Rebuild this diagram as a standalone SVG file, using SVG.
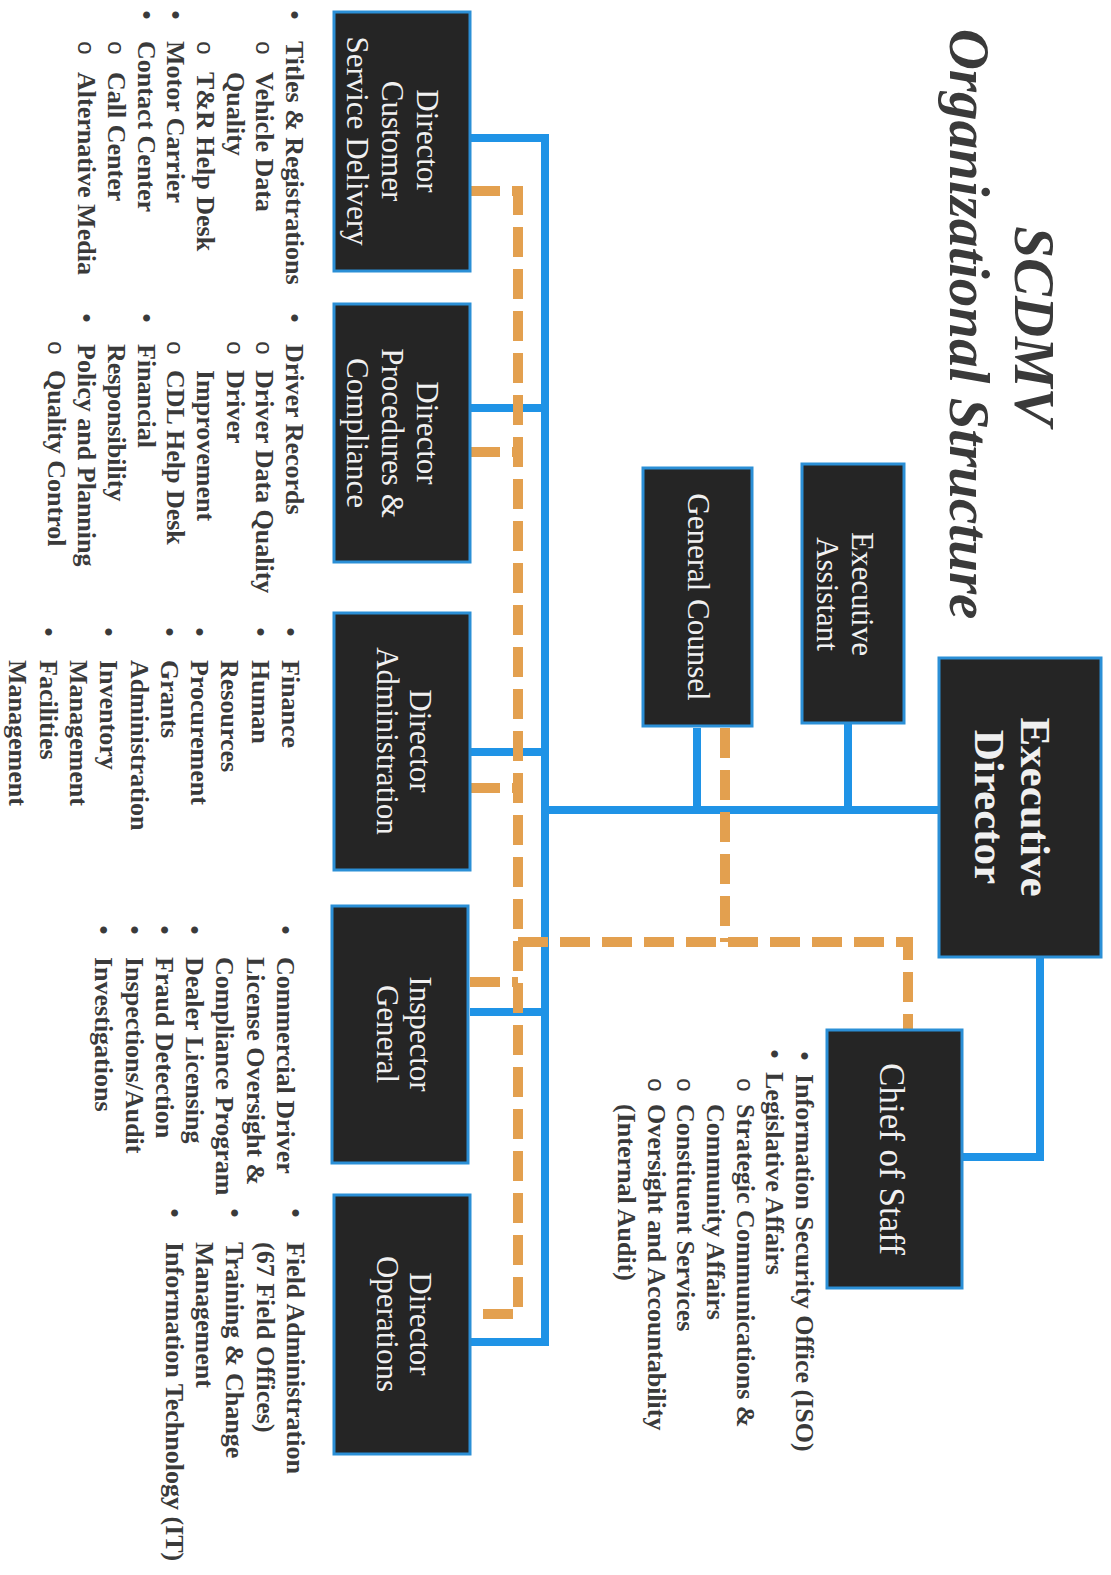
<svg xmlns="http://www.w3.org/2000/svg" width="1111" height="1575" viewBox="0 0 1111 1575">
<style>
.box{fill:#252525;stroke:#2b8fd6;stroke-width:3}
.bt{font-family:"Liberation Serif",serif;fill:#f0f0f0;font-size:31px;text-anchor:middle}
.btb{font-family:"Liberation Serif",serif;fill:#f0f0f0;font-size:43px;font-weight:bold;text-anchor:middle}
.li{font-family:"Liberation Serif",serif;font-weight:bold;fill:#3a3a3a;font-size:26px}
.bu{font-family:"Liberation Serif",serif;font-weight:bold;fill:#3a3a3a;font-size:26px;text-anchor:middle}
.ci{font-family:"Liberation Sans",sans-serif;fill:#3a3a3a;font-size:24px;text-anchor:middle}
.title{font-family:"Liberation Serif",serif;font-weight:bold;font-style:italic;fill:#3a3a3a;font-size:57px;text-anchor:middle}
.blue{stroke:#1f93e6;stroke-width:8;fill:none}
.orange{stroke:#e3a04f;stroke-width:10;fill:none;stroke-dasharray:30 12}
</style>
<rect width="1111" height="1575" fill="#ffffff"/>
<g id="title">
<text class="title" transform="translate(1015,326) rotate(90)">SCDMV</text>
<text class="title" transform="translate(950,324) rotate(90)">Organizational Structure</text>
</g>
<g id="connectors">
<path class="blue" d="M470,138 H545 V1342 H470"/>
<path class="blue" d="M470,408 H545"/>
<path class="blue" d="M470,752 H545"/>
<path class="blue" d="M470,1012 H545"/>
<path class="blue" d="M545,810 H938"/>
<path class="blue" d="M697,728 V810"/>
<path class="blue" d="M848,723 V810"/>
<path class="blue" d="M1040,957 V1157 H962"/>
<path class="orange" d="M470,191 H518 V1314 H470"/>
<path class="orange" d="M470,452 H518"/>
<path class="orange" d="M470,788 H518"/>
<path class="orange" d="M470,982 H518"/>
<path class="orange" d="M518,942 H908 V1030"/>
<path class="orange" d="M725,728 V942"/>
</g>
<g id="executive-director">
<rect class="box" x="939" y="658" width="162" height="299"/>
<text class="btb" transform="translate(1021,807) rotate(90)">Executive</text>
<text class="btb" transform="translate(975,807) rotate(90)">Director</text>
</g>
<g id="executive-assistant">
<rect class="box" x="802" y="464" width="102" height="259"/>
<text class="bt" transform="translate(852,594) rotate(90)">Executive</text>
<text class="bt" transform="translate(817,594) rotate(90)">Assistant</text>
</g>
<g id="general-counsel">
<rect class="box" x="643" y="468" width="109" height="258"/>
<text class="bt" transform="translate(688,597) rotate(90)">General Counsel</text>
</g>
<g id="chief-of-staff">
<rect class="box" x="827" y="1030" width="135" height="258"/>
<text class="bt" style="font-size:35px" transform="translate(880,1159) rotate(90)">Chief of Staff</text>
</g>
<g id="dir-customer-service">
<rect class="box" x="334" y="12" width="136" height="259"/>
<text class="bt" transform="translate(417,141) rotate(90)">Director</text>
<text class="bt" transform="translate(382,141) rotate(90)">Customer</text>
<text class="bt" transform="translate(347,141) rotate(90)">Service Delivery</text>
</g>
<g id="dir-procedures">
<rect class="box" x="334" y="304" width="136" height="258"/>
<text class="bt" transform="translate(417,433) rotate(90)">Director</text>
<text class="bt" transform="translate(382,433) rotate(90)">Procedures &amp;</text>
<text class="bt" transform="translate(347,433) rotate(90)">Compliance</text>
</g>
<g id="dir-administration">
<rect class="box" x="334" y="613" width="136" height="257"/>
<text class="bt" transform="translate(410,741) rotate(90)">Director</text>
<text class="bt" transform="translate(377,741) rotate(90)">Administration</text>
</g>
<g id="inspector-general">
<rect class="box" x="332" y="906" width="136" height="257"/>
<text class="bt" transform="translate(410,1034) rotate(90)">Inspector</text>
<text class="bt" transform="translate(377,1034) rotate(90)">General</text>
</g>
<g id="dir-operations">
<rect class="box" x="334" y="1195" width="136" height="259"/>
<text class="bt" transform="translate(410,1324) rotate(90)">Director</text>
<text class="bt" transform="translate(377,1324) rotate(90)">Operations</text>
</g>
<g id="list-customer" transform="translate(286,0) rotate(90)">
<text class="bu" x="15" y="0">•</text><text class="li" x="41" y="0">Titles &amp; Registrations</text>
<text class="ci" x="48" y="29.7">o</text><text class="li" x="72" y="29.7">Vehicle Data</text>
<text class="li" x="72" y="59.4">Quality</text>
<text class="ci" x="48" y="89.1">o</text><text class="li" x="72" y="89.1">T&amp;R Help Desk</text>
<text class="bu" x="15" y="118.8">•</text><text class="li" x="41" y="118.8">Motor Carrier</text>
<text class="bu" x="15" y="148.5">•</text><text class="li" x="41" y="148.5">Contact Center</text>
<text class="ci" x="48" y="178.2">o</text><text class="li" x="72" y="178.2">Call Center</text>
<text class="ci" x="48" y="207.9">o</text><text class="li" x="72" y="207.9">Alternative Media</text>
</g>
<g id="list-procedures" transform="translate(286,0) rotate(90)">
<text class="bu" x="318" y="0">•</text><text class="li" x="344" y="0">Driver Records</text>
<text class="ci" x="348" y="29.7">o</text><text class="li" x="370" y="29.7">Driver Data Quality</text>
<text class="ci" x="348" y="59.4">o</text><text class="li" x="370" y="59.4">Driver</text>
<text class="li" x="370" y="89.1">Improvement</text>
<text class="ci" x="348" y="118.8">o</text><text class="li" x="370" y="118.8">CDL Help Desk</text>
<text class="bu" x="318" y="148.5">•</text><text class="li" x="344" y="148.5">Financial</text>
<text class="li" x="344" y="178.2">Responsibility</text>
<text class="bu" x="318" y="207.9">•</text><text class="li" x="344" y="207.9">Policy and Planning</text>
<text class="ci" x="348" y="237.6">o</text><text class="li" x="370" y="237.6">Quality Control</text>
</g>
<g id="list-administration" transform="translate(282,0) rotate(90)">
<text class="bu" x="632" y="0">•</text><text class="li" x="660" y="0">Finance</text>
<text class="bu" x="632" y="30.3">•</text><text class="li" x="660" y="30.3">Human</text>
<text class="li" x="660" y="60.6">Resources</text>
<text class="bu" x="632" y="90.9">•</text><text class="li" x="660" y="90.9">Procurement</text>
<text class="bu" x="632" y="121.2">•</text><text class="li" x="660" y="121.2">Grants</text>
<text class="li" x="660" y="151.5">Administration</text>
<text class="bu" x="632" y="181.8">•</text><text class="li" x="660" y="181.8">Inventory</text>
<text class="li" x="660" y="212.1">Management</text>
<text class="bu" x="632" y="242.4">•</text><text class="li" x="660" y="242.4">Facilities</text>
<text class="li" x="660" y="272.7">Management</text>
</g>
<g id="list-inspector" transform="translate(277,0) rotate(90)">
<text class="bu" x="930" y="0">•</text><text class="li" x="957" y="0">Commercial Driver</text>
<text class="li" x="957" y="30.3">License Oversight &amp;</text>
<text class="li" x="957" y="60.6">Compliance Program</text>
<text class="bu" x="930" y="90.9">•</text><text class="li" x="957" y="90.9">Dealer Licensing</text>
<text class="bu" x="930" y="121.2">•</text><text class="li" x="957" y="121.2">Fraud Detection</text>
<text class="bu" x="930" y="151.5">•</text><text class="li" x="957" y="151.5">Inspections/Audit</text>
<text class="bu" x="930" y="181.8">•</text><text class="li" x="957" y="181.8">Investigations</text>
</g>
<g id="list-operations" transform="translate(287,0) rotate(90)">
<text class="bu" x="1213" y="0">•</text><text class="li" x="1242" y="0">Field Administration</text>
<text class="li" x="1242" y="30.3">(67 Field Offices)</text>
<text class="bu" x="1213" y="60.6">•</text><text class="li" x="1242" y="60.6">Training &amp; Change</text>
<text class="li" x="1242" y="90.9">Management</text>
<text class="bu" x="1213" y="121.2">•</text><text class="li" x="1242" y="121.2">Information Technology (IT)</text>
</g>
<g id="list-chief" transform="translate(796,0) rotate(90)">
<text class="bu" x="1056" y="0">•</text><text class="li" x="1074" y="0">Information Security Office (ISO)</text>
<text class="bu" x="1054" y="29.7">•</text><text class="li" x="1072" y="29.7">Legislative Affairs</text>
<text class="ci" x="1085" y="59.4">o</text><text class="li" x="1104" y="59.4">Strategic Communications &amp;</text>
<text class="li" x="1104" y="89.1">Community Affairs</text>
<text class="ci" x="1085" y="118.8">o</text><text class="li" x="1104" y="118.8">Constituent Services</text>
<text class="ci" x="1085" y="148.5">o</text><text class="li" x="1104" y="148.5">Oversight and Accountability</text>
<text class="li" x="1104" y="178.2">(Internal Audit)</text>
</g>
</svg>
